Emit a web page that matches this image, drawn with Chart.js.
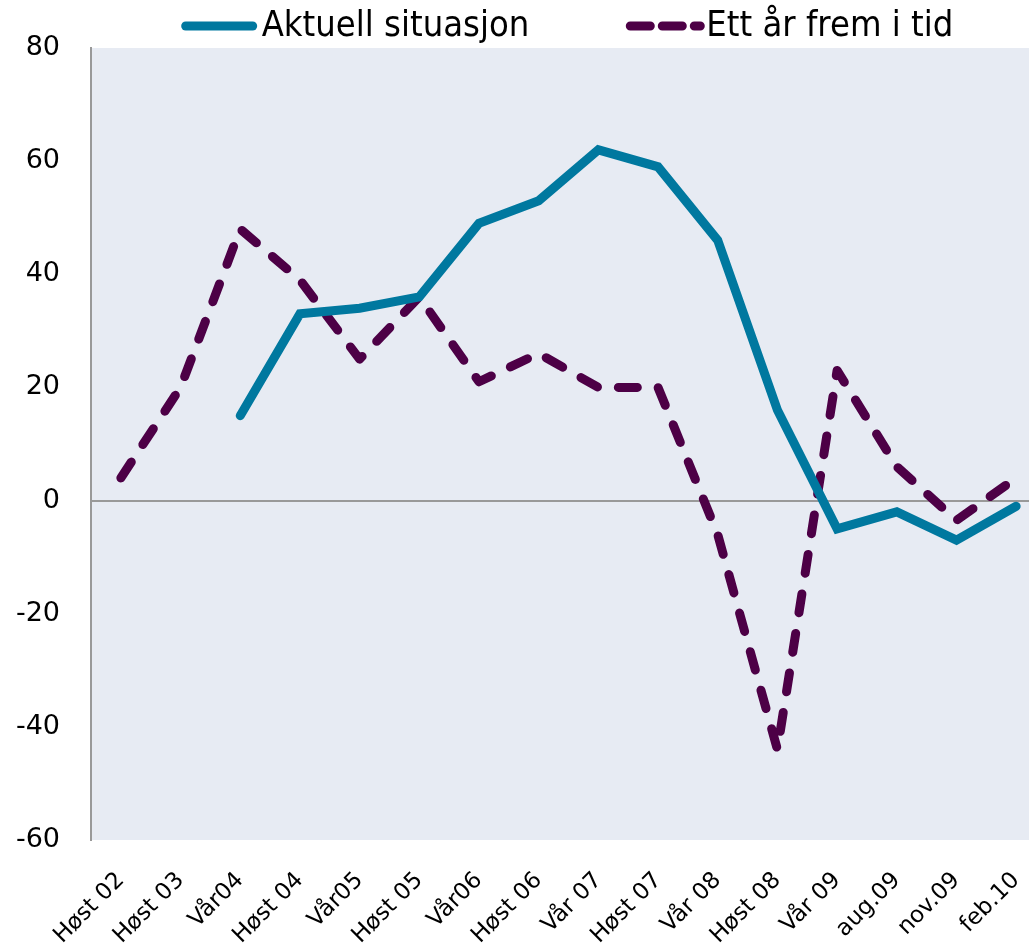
<!DOCTYPE html>
<html>
<head>
<meta charset="utf-8">
<script src="https://cdn.jsdelivr.net/npm/chart.js@4/dist/chart.umd.min.js"></script>
<style>
    html, body { margin: 0; padding: 0; background: #ffffff; overflow: hidden; }
    #wrap { width: 1046px; height: 949px; }
</style>
</head>
<body>
<div id="wrap"><canvas id="chart"></canvas></div>
<script>
var categories = ["Høst 02", "Høst 03", "Vår04", "Høst 04", "Vår05", "Høst 05", "Vår06", "Høst 06",
    "Vår 07", "Høst 07", "Vår 08", "Høst 08", "Vår 09", "aug.09", "nov.09", "feb.10"];
var aktuellSituasjon = [null, null, 15, 33, 34, 36, 49, 53, 62, 59, 46, 16, -5, -2, -7, -1];
var ettAarFrem = [4, 20, 48, 39, 25, 36, 21, 26, 20, 20, -6, -44, 23, 6, -3.5, 4];
var yTicks = [-60, -40, -20, 0, 20, 40, 60, 80];

var fontFamily = "'DejaVu Sans', Verdana, sans-serif";

// paints the light plot background before the lines
var plotBackground = {
    id: "plotBackground",
    beforeDraw: function (chart) {
        var area = chart.chartArea;
        var ctx = chart.ctx;
        ctx.save();
        ctx.fillStyle = "#e7ebf3";
        ctx.fillRect(area.left, area.top, area.right - area.left, area.bottom - area.top);
        ctx.restore();
    }
};

// legend drawn by hand so the dashed sample keeps its dashes and round caps
var lineLegend = {
    id: "lineLegend",
    afterDraw: function (chart) {
        var ctx = chart.ctx;
        var area = chart.chartArea;
        var sampleLength = 75;
        var textGap = 5;
        var itemGap = 97;
        var squeeze = 0.9;
        var y = 26;

        ctx.save();
        ctx.font = "36px " + fontFamily;

        var widths = chart.data.datasets.map(function (ds) {
            return ctx.measureText(ds.label).width * squeeze;
        });
        var total = 0;
        widths.forEach(function (w, i) {
            total += sampleLength + textGap + w + (i > 0 ? itemGap : 0);
        });
        var x = (area.left + area.right) / 2 - 1 - total / 2;

        chart.data.datasets.forEach(function (ds, i) {
            ctx.save();
            ctx.strokeStyle = ds.borderColor;
            ctx.lineWidth = ds.borderWidth;
            ctx.lineCap = "round";
            ctx.setLineDash(ds.borderDash ? [20, 12] : []);
            ctx.beginPath();
            ctx.moveTo(x + 4, y);
            ctx.lineTo(x + sampleLength - (ds.borderDash ? 1 : 4), y);
            ctx.stroke();
            ctx.restore();

            x += sampleLength + textGap;
            ctx.save();
            ctx.translate(x, y);
            ctx.scale(squeeze, 1);
            ctx.fillStyle = "#000000";
            ctx.textBaseline = "middle";
            ctx.fillText(ds.label, 0, 1);
            ctx.restore();
            x += widths[i] + itemGap;
        });
        ctx.restore();
    }
};

new Chart(document.getElementById("chart"), {
    type: "line",
    data: {
        labels: categories,
        datasets: [
            {
                label: "Aktuell situasjon",
                data: aktuellSituasjon,
                borderColor: "#00789f",
                backgroundColor: "#00789f",
                borderWidth: 9,
                borderCapStyle: "round",
                borderJoinStyle: "miter",
                pointRadius: 0,
                tension: 0
            },
            {
                label: "Ett år frem i tid",
                data: ettAarFrem,
                borderColor: "#4d0046",
                backgroundColor: "#4d0046",
                borderWidth: 9,
                borderDash: [19, 21],
                borderCapStyle: "round",
                borderJoinStyle: "round",
                pointRadius: 0,
                tension: 0
            }
        ]
    },
    options: {
        responsive: true,
        maintainAspectRatio: false,
        animation: false,
        layout: {
            padding: { left: 16, right: 0, top: 48, bottom: 0 }
        },
        scales: {
            x: {
                offset: true,
                grid: { display: false, drawTicks: false },
                border: { display: false },
                afterFit: function (axis) {
                    axis.paddingLeft = 0;
                    axis.paddingRight = 0;
                    axis.height = 109;
                },
                ticks: {
                    autoSkip: false,
                    minRotation: 45,
                    maxRotation: 45,
                    padding: 27,
                    color: "#000000",
                    font: { family: fontFamily, size: 23 }
                }
            },
            y: {
                min: -60,
                max: 80,
                afterBuildTicks: function (axis) {
                    axis.ticks = yTicks.map(function (v) { return { value: v }; });
                },
                afterFit: function (axis) {
                    axis.width = 75;
                },
                grid: {
                    drawTicks: false,
                    lineWidth: 2,
                    color: function (context) {
                        return context.tick && context.tick.value === 0 ? "#999999" : "rgba(0,0,0,0)";
                    }
                },
                border: { display: true, color: "#999999", width: 2 },
                ticks: {
                    padding: 31,
                    color: "#000000",
                    font: { family: fontFamily, size: 27 }
                }
            }
        },
        plugins: {
            legend: { display: false },
            tooltip: { enabled: false }
        }
    },
    plugins: [plotBackground, lineLegend]
});
</script>
</body>
</html>
